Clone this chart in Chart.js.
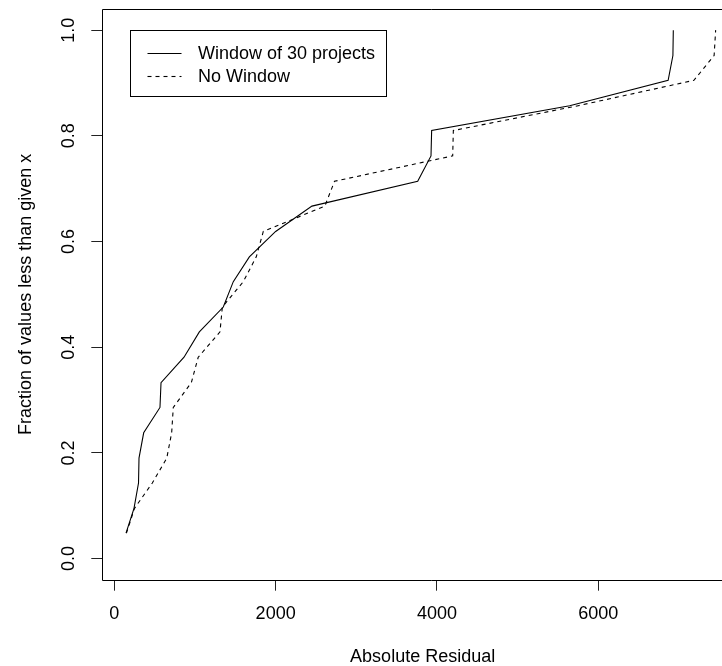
<!DOCTYPE html>
<html>
<head>
<meta charset="utf-8">
<script src="https://cdn.jsdelivr.net/npm/chart.js@4"></script>
<style>
  html, body { margin: 0; padding: 0; background: #fff; overflow: hidden; }
  #wrap { width: 760px; height: 666px; }
</style>
</head>
<body>
<div id="wrap"><canvas id="c" width="760" height="666"></canvas></div>
<script>
// ---- data ----
const fractions = [0.048, 0.095, 0.143, 0.190, 0.238, 0.286, 0.333, 0.381, 0.429, 0.476, 0.524,
                   0.571, 0.619, 0.667, 0.714, 0.762, 0.810, 0.857, 0.905, 0.952, 1.000];
const windowResiduals = [145, 244, 300, 306, 364, 566, 579, 864, 1054, 1351, 1475,
                         1674, 2000, 2450, 3761, 3926, 3934, 5645, 6866, 6925, 6930];
const noWindowResiduals = [150, 250, 471, 650, 711, 731, 955, 1040, 1310, 1339, 1599,
                           1760, 1847, 2610, 2730, 4195, 4203, 5750, 7185, 7436, 7455];
const seriesNames = ['Window of 30 projects', 'No Window'];
const xTicks = [0, 2000, 4000, 6000];
const yTicks = [0.0, 0.2, 0.4, 0.6, 0.8, 1.0];
const xTitle = 'Absolute Residual';
const yTitle = 'Fraction of values less than given x';

const FONT = "'Liberation Sans', Arial, Helvetica, sans-serif";
Chart.defaults.font.family = FONT;
Chart.defaults.color = '#000';

function toPoints(xs, ys) { return xs.map((x, i) => ({ x: x, y: ys[i] })); }

const boxPlugin = {
  id: 'rbox',
  afterDatasetsDraw(chart) {
    const { ctx, chartArea: a } = chart;
    ctx.save();
    ctx.strokeStyle = '#000';
    ctx.lineWidth = 1;
    ctx.setLineDash([]);
    const L = Math.round(a.left) + 0.5, T = Math.round(a.top) + 0.5, B = Math.round(a.bottom) + 0.5;
    const R = a.right + 40; // plot frame continues past the visible page edge
    ctx.beginPath();
    ctx.moveTo(R, T); ctx.lineTo(L, T); ctx.lineTo(L, B); ctx.lineTo(R, B);
    ctx.stroke();
    // legend box
    const bx = Math.round(a.left + 28) + 0.5, by = Math.round(a.top + 21.3) + 0.5;
    ctx.strokeRect(bx, by, 256, 66);
    ctx.font = '18px ' + FONT;
    ctx.textBaseline = 'middle';
    ctx.textAlign = 'left';
    chart.data.datasets.forEach((ds, i) => {
      const y = Math.round(by + 22.4 + i * 22.6) + 0.5;
      ctx.strokeStyle = ds.borderColor;
      ctx.lineWidth = ds.borderWidth;
      ctx.setLineDash(ds.borderDash || []);
      ctx.beginPath();
      ctx.moveTo(bx + 17, y);
      ctx.lineTo(bx + 51, y);
      ctx.stroke();
      ctx.setLineDash([]);
      ctx.fillStyle = '#000';
      ctx.fillText(ds.label, bx + 67.4, y + 0.5);
    });
    ctx.restore();
  }
};

new Chart(document.getElementById('c'), {
  type: 'line',
  data: {
    datasets: [
      { label: seriesNames[0], data: toPoints(windowResiduals, fractions),
        borderColor: '#000', borderWidth: 1.1, pointRadius: 0, tension: 0, fill: false },
      { label: seriesNames[1], data: toPoints(noWindowResiduals, fractions),
        borderColor: '#000', borderWidth: 1.1, borderDash: [4, 4], pointRadius: 0, tension: 0, fill: false }
    ]
  },
  options: {
    responsive: false,
    animation: false,
    devicePixelRatio: 1,
    layout: { padding: { left: 0, top: 9, right: 17, bottom: 0 } },
    plugins: { legend: { display: false }, tooltip: { enabled: false } },
    scales: {
      x: {
        type: 'linear', min: -149, max: 7794,
        afterBuildTicks: s => { s.ticks = xTicks.map(v => ({ value: v })); },
        afterFit: s => { s.height = 86.3; s.paddingLeft = 0; s.paddingRight = 0; },
        ticks: { font: { size: 18 }, color: '#000', padding: 12.5, maxRotation: 0, autoSkip: false,
                 callback: v => String(v) },
        grid: { display: true, drawOnChartArea: false, drawTicks: true, tickLength: 11, color: '#222', lineWidth: 1 },
        border: { display: false },
        title: { display: true, text: xTitle, font: { size: 18 }, color: '#000', padding: { top: 0, bottom: -2 } }
      },
      y: {
        type: 'linear', min: -0.04, max: 1.04,
        afterBuildTicks: s => { s.ticks = yTicks.map(v => ({ value: v })); },
        afterFit: s => { s.width = 102.3; s.paddingTop = 0; s.paddingBottom = 0; },
        ticks: { font: { size: 18 }, color: '#000', padding: 10, minRotation: 90, maxRotation: 90,
                 crossAlign: 'center', autoSkip: false, callback: v => Number(v).toFixed(1) },
        grid: { display: true, drawOnChartArea: false, drawTicks: true, tickLength: 11, color: '#222', lineWidth: 1 },
        border: { display: false },
        title: { display: true, text: yTitle, font: { size: 18 }, color: '#000', padding: { top: 15.7, bottom: 0 } }
      }
    }
  },
  plugins: [boxPlugin]
});
</script>
</body>
</html>
